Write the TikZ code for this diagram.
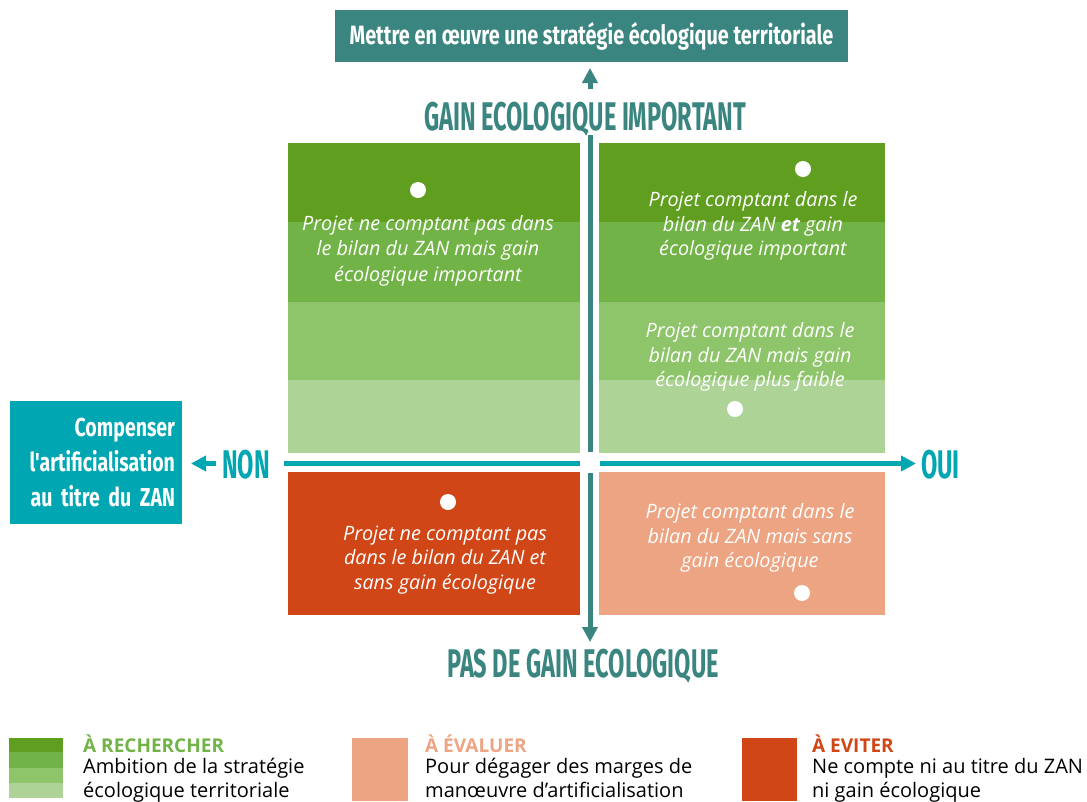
\documentclass[tikz,border=0pt]{standalone}
\usepackage{fontspec}
\setmainfont{Open Sans}
\newfontfamily\dinfont[FakeStretch=0.59]{Fira Sans}
\newfontfamily\dinlfont[FakeStretch=0.75]{Fira Sans}
\usetikzlibrary{positioning,arrows.meta}

\definecolor{tealfonce}{RGB}{58,133,128}
\definecolor{cyanzan}{RGB}{0,166,177}
\definecolor{vertA}{RGB}{96,158,32}
\definecolor{vertB}{RGB}{114,179,71}
\definecolor{vertC}{RGB}{142,196,106}
\definecolor{vertD}{RGB}{173,212,150}
\definecolor{rouge}{RGB}{209,70,22}
\definecolor{saumon}{RGB}{236,164,130}

\tikzset{
  projet/.style={text=white, align=center, inner sep=0pt,
    font=\itshape\fontsize{19.8}{24.5}\selectfont},
  point/.style={circle, fill=white, minimum size=16pt, inner sep=0pt},
  titre/.style={font=\dinfont\bfseries\fontsize{40}{40}\selectfont, inner sep=0pt},
  fleche/.style={line width=5pt, -{Triangle[width=15pt,length=15pt]}},
  legtitre/.style={anchor=base west, inner sep=0pt, font=\bfseries\fontsize{19}{20}\selectfont},
  legtexte/.style={anchor=base west, align=left, inner sep=0pt,
    font=\fontsize{20}{24}\selectfont},
}

\begin{document}
\begin{tikzpicture}[x=1pt,y=-1pt]
  \useasboundingbox (0,0) rectangle (1087,801);

  % boites d'objectif
  \node[fill=tealfonce, text=white, minimum width=513pt, minimum height=52pt,
        font=\dinlfont\bfseries\fontsize{26.5}{27}\selectfont] (strategie) at (591.5,36)
        {Mettre en \oe uvre une stratégie écologique territoriale};
  \node[fill=cyanzan, text=white, text width=158pt, inner xsep=7pt, minimum height=123pt,
        align=right, font=\dinlfont\bfseries\fontsize{26}{35}\selectfont] (compenser) at (96,462.5)
        {Compenser\\l'artificialisation\\au titre du ZAN};

  % quadrant haut gauche
  \fill[vertA] (288,143) rectangle (580,222);
  \fill[vertB] (288,222) rectangle (580,302);
  \fill[vertC] (288,302) rectangle (580,380);
  \fill[vertD] (288,380) rectangle (580,453);
  % quadrant haut droit
  \fill[vertA] (599,143) rectangle (885,222);
  \fill[vertB] (599,222) rectangle (885,302);
  \fill[vertC] (599,302) rectangle (885,380);
  \fill[vertD] (599,380) rectangle (885,453);
  % quadrants bas
  \fill[rouge] (288,472) rectangle (580,615);
  \fill[saumon] (599,472) rectangle (885,615);

  % projets
  \node[point] (p1) at (418,190) {};
  \node[projet] (hg) at (428,251) {Projet ne comptant pas dans\\le bilan du ZAN mais gain\\[2pt]écologique important};
  \node[point] (p2) at (803,169) {};
  \node[projet] (hd) at (753,226) {Projet comptant dans le\\bilan du ZAN \textbf{et} gain\\écologique important};
  \node[projet] (hd2) at (750,357) {Projet comptant dans le\\bilan du ZAN mais gain\\écologique plus faible};
  \node[point] (p3) at (735,409) {};
  \node[point] (p4) at (448,502) {};
  \node[projet] (bg) at (445,560) {Projet ne comptant pas\\dans le bilan du ZAN et\\sans gain écologique};
  \node[projet] (bd) at (750,538) {Projet comptant dans le\\bilan du ZAN mais sans\\gain écologique};
  \node[point] (p5) at (802,593) {};

  % libelles des axes
  \node[titre, text=tealfonce] (gain) at (585,119) {GAIN ECOLOGIQUE IMPORTANT};
  \node[titre, text=tealfonce] (pasgain) at (583,666) {PAS DE GAIN ECOLOGIQUE};
  \node[titre, text=cyanzan, anchor=west] (non) at (222,465) {NON};
  \node[titre, text=cyanzan, anchor=west] (oui) at (921,465) {OUI};

  % axes
  \coordinate (centreH) at (590,452);
  \coordinate (centreB) at (590,473);
  \coordinate (centreG) at (580,463.5);
  \coordinate (centreD) at (600,463.5);
  \coordinate (gainbas) at (590,135);
  \coordinate (gainhaut) at (590,89);
  \coordinate (finhaut) at (590,68);
  \coordinate (finbas) at (590,642);
  \coordinate (nonest) at (284,463.5);
  \coordinate (nonouest) at (216,463.5);
  \coordinate (finouest) at (191,463.5);
  \coordinate (finest) at (916,463.5);
  \draw[tealfonce, line width=5pt] (centreH) -- (gainbas);
  \draw[tealfonce, fleche] (gainhaut) -- (finhaut);
  \draw[tealfonce, fleche] (centreB) -- (finbas);
  \draw[cyanzan, line width=5pt] (centreG) -- (nonest);
  \draw[cyanzan, fleche] (nonouest) -- (finouest);
  \draw[cyanzan, fleche] (centreD) -- (finest);

  % legende
  \fill[vertA] (9,738) rectangle (63,752);
  \fill[vertB] (9,752) rectangle (63,768);
  \fill[vertC] (9,768) rectangle (63,783);
  \fill[vertD] (9,783) rectangle (63,798);
  \node[legtitre, text=vertB] (rech) at (83,752) {À RECHERCHER};
  \node[legtexte] (rechtxt) at (83,773) {Ambition de la stratégie};
  \node[legtexte] (rechtxt2) at (83,797) {écologique territoriale};
  \fill[saumon] (352,738) rectangle (408,801);
  \node[legtitre, text=saumon] (eval) at (425,752) {À ÉVALUER};
  \node[legtexte] (evaltxt) at (425,773) {Pour dégager des marges de};
  \node[legtexte] (evaltxt2) at (425,797) {man\oe uvre d'artificialisation};
  \fill[rouge] (742,738) rectangle (797,801);
  \node[legtitre, text=rouge] (evit) at (812,752) {À EVITER};
  \node[legtexte] (evittxt) at (812,773) {Ne compte ni au titre du ZAN};
  \node[legtexte] (evittxt2) at (812,797) {ni gain écologique};
\end{tikzpicture}
\end{document}
